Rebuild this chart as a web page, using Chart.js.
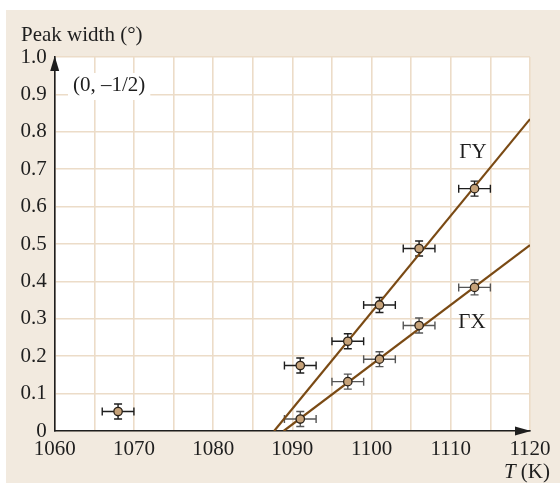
<!DOCTYPE html>
<html>
<head>
<meta charset="utf-8">
<script src="https://cdn.jsdelivr.net/npm/chart.js@4.4.1/dist/chart.umd.min.js"></script>
<style>
html,body{margin:0;padding:0;background:#fff;}
#wrap{width:560px;height:488px;}
</style>
</head>
<body>
<div id="wrap"><canvas id="c" width="560" height="488"></canvas></div>
<script>
// ---- data ----
const tOther = [1068, 1091];
const wOther = [0.052, 0.175];
const tGY = [1097, 1101, 1106, 1113];
const wGY = [0.240, 0.337, 0.488, 0.648];
const tGX = [1091, 1097, 1101, 1106, 1113];
const wGX = [0.032, 0.132, 0.192, 0.282, 0.384];
const tErr = 2;      // K, half-width of horizontal error bar
const wErr = 0.02;   // deg, half-height of vertical error bar
const fitGYT = [1087.7, 1120];
const fitGYW = [0, 0.834];
const fitGXT = [1088.9, 1120];
const fitGXW = [0, 0.497];
const xMin = 1060, xMax = 1120, xStep = 5, xLabelStep = 10;
const yMin = 0, yMax = 1.0, yStep = 0.1;
const seriesLabels = ['ΓY', 'ΓX'];
const annotationText = '(0, –1/2)';
const yTitle = 'Peak width (°)';

const FONT = '"Liberation Serif", "DejaVu Serif", serif';
const FS = 21;
const toPts = (xs, ys) => xs.map((x, i) => ({x: x, y: ys[i]}));

const bgPlugin = {
  id: 'bg',
  beforeDraw(chart) {
    const {ctx, chartArea: a} = chart;
    ctx.save();
    ctx.fillStyle = '#ffffff';
    ctx.fillRect(0, 0, chart.width, chart.height);
    ctx.fillStyle = '#f2eadf';
    ctx.fillRect(6, 10, chart.width - 6, 473);
    ctx.fillStyle = '#ffffff';
    ctx.fillRect(a.left, a.top, a.right - a.left, a.bottom - a.top);
    ctx.restore();
  }
};

const errPlugin = {
  id: 'errbars',
  beforeDatasetsDraw(chart) {
    const {ctx, scales: {x, y}} = chart;
    const groups = [
      {t: tOther, w: wOther, c: '#1e1e1e'},
      {t: tGY, w: wGY, c: '#1e1e1e'},
      {t: tGX, w: wGX, c: '#555555'}
    ];
    ctx.save();
    ctx.lineWidth = 1.4;
    const cap = 4;
    groups.forEach(g => {
      ctx.strokeStyle = g.c;
      g.t.forEach((t, i) => {
        const px = x.getPixelForValue(t), py = y.getPixelForValue(g.w[i]);
        const x0 = x.getPixelForValue(t - tErr), x1 = x.getPixelForValue(t + tErr);
        const y0 = y.getPixelForValue(g.w[i] - wErr), y1 = y.getPixelForValue(g.w[i] + wErr);
        ctx.beginPath();
        ctx.moveTo(x0, py); ctx.lineTo(x1, py);
        ctx.moveTo(x0, py - cap); ctx.lineTo(x0, py + cap);
        ctx.moveTo(x1, py - cap); ctx.lineTo(x1, py + cap);
        ctx.moveTo(px, y0); ctx.lineTo(px, y1);
        ctx.moveTo(px - cap, y0); ctx.lineTo(px + cap, y0);
        ctx.moveTo(px - cap, y1); ctx.lineTo(px + cap, y1);
        ctx.stroke();
      });
    });
    ctx.restore();
  }
};

const textPlugin = {
  id: 'texts',
  afterDraw(chart) {
    const {ctx, chartArea: a} = chart;
    ctx.save();
    // axis arrows
    ctx.fillStyle = '#1e1e1e';
    ctx.beginPath();
    ctx.moveTo(a.left, a.top - 1);
    ctx.lineTo(a.left - 4.5, a.top + 14);
    ctx.lineTo(a.left + 4.5, a.top + 14);
    ctx.closePath(); ctx.fill();
    ctx.beginPath();
    ctx.moveTo(a.right + 1, a.bottom);
    ctx.lineTo(a.right - 15, a.bottom - 4.5);
    ctx.lineTo(a.right - 15, a.bottom + 4.5);
    ctx.closePath(); ctx.fill();

    ctx.fillStyle = '#1e1e1e';
    ctx.font = FS + 'px ' + FONT;
    ctx.textBaseline = 'alphabetic';
    ctx.textAlign = 'left';
    ctx.fillText(yTitle, 21, 41);

    // annotation with white box
    const aw = ctx.measureText(annotationText).width;
    ctx.fillStyle = '#ffffff';
    ctx.fillRect(68, 73, aw + 10, 27);
    ctx.fillStyle = '#1e1e1e';
    ctx.fillText(annotationText, 73, 91);

    // series labels
    ctx.textAlign = 'center';
    ctx.textBaseline = 'middle';
    ctx.fillText(seriesLabels[0], 473, 152);
    ctx.fillText(seriesLabels[1], 472, 322);

    // x axis title: T (K)
    ctx.textAlign = 'left';
    ctx.textBaseline = 'alphabetic';
    ctx.font = FS + 'px ' + FONT;
    const rest = ' (K)';
    const rw = ctx.measureText(rest).width;
    ctx.font = 'italic ' + FS + 'px ' + FONT;
    const tw = ctx.measureText('T').width;
    const right = 550;
    ctx.fillText('T', right - rw - tw, 478);
    ctx.font = FS + 'px ' + FONT;
    ctx.fillText(rest, right - rw, 478);
    ctx.restore();
  }
};

const pointStyle = {
  pointRadius: 4.2,
  pointHoverRadius: 4.2,
  pointBackgroundColor: '#c6a279',
  pointBorderColor: '#2a2118',
  pointBorderWidth: 1.3,
  showLine: false
};

new Chart(document.getElementById('c'), {
  type: 'scatter',
  data: {
    datasets: [
      Object.assign({label: 'other', data: toPts(tOther, wOther), order: 0}, pointStyle),
      Object.assign({label: seriesLabels[0] + ' data', data: toPts(tGY, wGY), order: 0}, pointStyle),
      Object.assign({label: seriesLabels[1] + ' data', data: toPts(tGX, wGX), order: 0}, pointStyle),
      {label: seriesLabels[0] + ' fit', type: 'line', data: toPts(fitGYT, fitGYW), showLine: true,
       borderColor: '#7a4a14', borderWidth: 2.2, pointRadius: 0, fill: false, order: 1},
      {label: seriesLabels[1] + ' fit', type: 'line', data: toPts(fitGXT, fitGXW), showLine: true,
       borderColor: '#7a4a14', borderWidth: 2.2, pointRadius: 0, fill: false, order: 1}
    ]
  },
  options: {
    responsive: false,
    animation: false,
    devicePixelRatio: 1,
    layout: {padding: {left: 0, right: 30, top: 57, bottom: 0}},
    plugins: {legend: {display: false}, tooltip: {enabled: false}},
    scales: {
      x: {
        type: 'linear', min: xMin, max: xMax,
        afterFit(s) { s.height = 57; },
        ticks: {
          stepSize: xStep, padding: 6, color: '#1e1e1e', maxRotation: 0, autoSkip: false,
          font: {family: FONT, size: FS},
          callback: v => (v % xLabelStep === 0 ? String(v) : '')
        },
        grid: {color: '#ecdcc8', lineWidth: 1.6, drawTicks: false},
        border: {display: true, color: '#1e1e1e', width: 1.6}
      },
      y: {
        type: 'linear', min: yMin, max: yMax,
        afterFit(s) { s.width = 54.7; },
        ticks: {
          stepSize: yStep, padding: 8, color: '#1e1e1e',
          font: {family: FONT, size: FS},
          callback: v => (Math.abs(v) < 1e-9 ? '0' : v.toFixed(1))
        },
        grid: {color: '#ecdcc8', lineWidth: 1.6, drawTicks: false},
        border: {display: true, color: '#1e1e1e', width: 1.6}
      }
    }
  },
  plugins: [bgPlugin, errPlugin, textPlugin]
});
</script>
</body>
</html>
